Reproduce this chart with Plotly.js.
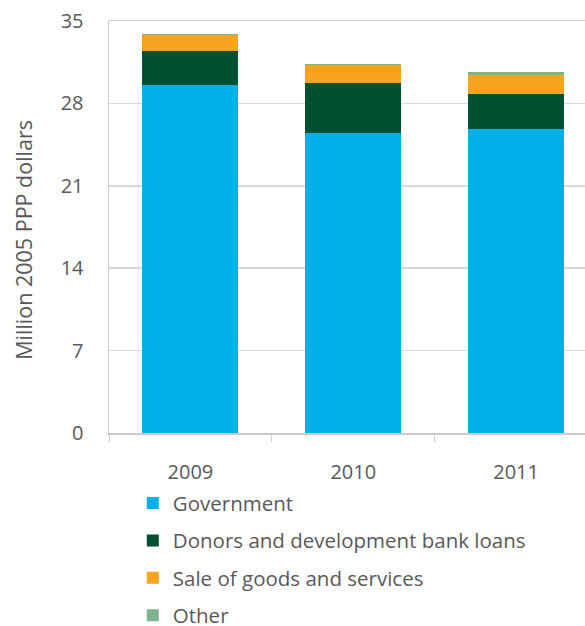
<!DOCTYPE html>
<html>
<head>
<meta charset="utf-8">
<script src="https://cdn.plot.ly/plotly-3.0.1.min.js"></script>
<style>html,body{margin:0;padding:0;background:#fff;}#chart{width:585px;height:626px;}</style>
</head>
<body>
<div id="chart"></div>
<script>
var years = ['2009', '2010', '2011'];
var seriesNames = ['Government', 'Donors and development bank loans', 'Sale of goods and services', 'Other'];
var government = [29.59, 25.51, 25.86];
var donors = [2.89, 4.25, 2.97];
var sales = [1.36, 1.53, 1.61];
var other = [0.08, 0.09, 0.26];
var yTicks = [0, 7, 14, 21, 28, 35];
var colors = ['#00B0E8', '#005032', '#F8A51D', '#7FB38C'];

var values = [government, donors, sales, other];
var traces = values.map(function (v, i) {
  return {
    type: 'bar', x: years, y: v, name: seriesNames[i],
    legendgroup: 'g' + i,
    marker: {color: colors[i], line: {width: 0}},
    hoverinfo: 'none'
  };
});

var ff = 'Open Sans, sans-serif';
var layout = {
  width: 585, height: 626,
  margin: {l: 108.5, r: 0, t: 21, b: 193},
  barmode: 'stack', bargap: 0.41,
  paper_bgcolor: '#fff', plot_bgcolor: '#fff',
  font: {family: ff, color: '#595959', size: 20},
  showlegend: true,
  legend: {
    xref: 'paper', yref: 'container',
    x: 0.05, y: 0.228, xanchor: 'left', yanchor: 'top',
    orientation: 'v', traceorder: 'grouped', tracegroupgap: 7.7,
    font: {family: ff, color: '#595959', size: 20.5}
  },
  xaxis: {
    type: 'category', range: [-0.5, 2.423],
    showgrid: false, showline: true, mirror: true, linecolor: '#cacaca', linewidth: 1.5,
    ticks: 'outside', tickson: 'boundaries', ticklen: 7, tickcolor: '#d0d0d0',
    ticklabelstandoff: 20,
    tickfont: {family: ff, size: 20, color: '#595959'}, automargin: false
  },
  yaxis: {
    range: [0, 35], tickvals: yTicks, ticktext: yTicks.map(String),
    showgrid: true, gridcolor: '#d9d9d9', gridwidth: 1.5,
    showline: true, linecolor: '#cacaca', linewidth: 1.5, zeroline: false,
    ticks: '', ticklen: 0, ticklabelstandoff: 20,
    tickfont: {family: ff, size: 20, color: '#595959'},
    automargin: false
  },
  annotations: [{
    text: 'Million 2005 PPP dollars', textangle: -90, showarrow: false,
    xref: 'paper', yref: 'paper', x: -0.1794, y: 0.468, xanchor: 'center', yanchor: 'middle',
    font: {family: ff, size: 21.5, color: '#595959'}
  }]
};
Plotly.newPlot('chart', traces, layout, {staticPlot: true, displayModeBar: false});
</script>
</body>
</html>
